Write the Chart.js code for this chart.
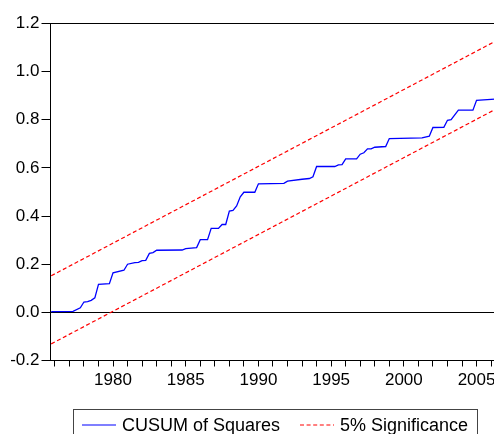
<!DOCTYPE html>
<html>
<head>
<meta charset="utf-8">
<script src="https://cdn.jsdelivr.net/npm/chart.js@4.4.1/dist/chart.umd.min.js"></script>
<style>
  html, body { margin: 0; padding: 0; background: #fff; overflow: hidden; }
  #wrap { position: relative; width: 494px; height: 434px; overflow: hidden; }
  #graf { position: absolute; left: 0; top: 0; }
  .legenda {
    position: absolute; left: 73px; top: 409px; width: 405px; height: 40px;
    border: 1px solid #444; box-sizing: border-box;
    font-family: "Liberation Sans", Arial, sans-serif; font-size: 18px; color: #000;
  }
  .item { position: absolute; top: 5px; white-space: nowrap; line-height: 20px; }
  .item svg { vertical-align: middle; margin-right: 6px; position: relative; top: -1px; }
</style>
</head>
<body>
<div id="wrap">
  <canvas id="graf" width="520" height="434"></canvas>
  <div class="legenda">
    <span class="item" style="left:8px"><svg width="34" height="4"><line x1="0" y1="2" x2="34" y2="2" stroke="#0000ff" stroke-width="1.2"/></svg>CUSUM of Squares</span>
    <span class="item" style="left:226px"><svg width="34" height="4"><line x1="0" y1="2" x2="34" y2="2" stroke="#ff0000" stroke-width="1.1" stroke-dasharray="4,2.6"/></svg>5% Significance</span>
  </div>
</div>
<script>
// CUSUM of squares (vertices of the quarterly path)
const anos = [1975.75, 1977.25, 1977.75, 1978.0, 1978.25, 1978.5, 1978.75, 1979.0, 1979.75, 1980.0,
  1980.75, 1981.0, 1981.5, 1981.75, 1982.0, 1982.25, 1982.5, 1982.75, 1983.0, 1984.75,
  1985.0, 1985.75, 1986.0, 1986.5, 1986.75, 1987.25, 1987.5, 1987.75, 1988.0, 1988.25,
  1988.5, 1988.75, 1989.0, 1989.75, 1990.0, 1991.75, 1992.0, 1993.0, 1993.5, 1993.75,
  1994.0, 1995.25, 1995.5, 1995.75, 1996.0, 1996.75, 1997.0, 1997.25, 1997.5, 1997.75,
  1998.0, 1998.75, 1999.0, 2001.25, 2001.75, 2002.0, 2002.75, 2003.0, 2003.25, 2003.75,
  2004.75, 2005.0, 2006.5];
const cusumSq = [0.003, 0.004, 0.019, 0.043, 0.045, 0.050, 0.060, 0.116, 0.119, 0.164,
  0.175, 0.200, 0.207, 0.208, 0.215, 0.216, 0.245, 0.248, 0.258, 0.259,
  0.265, 0.269, 0.302, 0.302, 0.349, 0.349, 0.365, 0.365, 0.421, 0.424,
  0.442, 0.480, 0.499, 0.499, 0.534, 0.536, 0.545, 0.553, 0.556, 0.563,
  0.606, 0.606, 0.613, 0.614, 0.638, 0.638, 0.657, 0.663, 0.679, 0.679,
  0.686, 0.689, 0.722, 0.725, 0.732, 0.768, 0.769, 0.798, 0.801, 0.840,
  0.840, 0.881, 0.887];

// 5% bands (straight lines, start and end)
const anosBanda = [1975.75, 2006.75];
const bandaSup = [0.152, 1.141];
const bandaInf = [-0.131, 0.858];

const yMin = -0.2, yMax = 1.2, yPasso = 0.2;
const xMin = 1975.7, xMax = 2006.75;

const pares = (xs, ys) => xs.map((x, i) => ({ x: x, y: ys[i] }));

const moldura = {
  id: 'moldura',
  afterDraw(chart) {
    const a = chart.chartArea;
    const c = chart.ctx;
    c.save();
    c.strokeStyle = '#000';
    c.lineWidth = 1;
    c.strokeRect(a.left, a.top, a.right - a.left, a.bottom - a.top);
    c.restore();
  }
};

const fonte = { family: '"Liberation Sans", Arial, sans-serif', size: 17 };

const ctx = document.getElementById('graf').getContext('2d');
const grafico = new Chart(ctx, {
  type: 'line',
  data: {
    datasets: [
      {
        label: 'CUSUM of Squares',
        data: pares(anos, cusumSq),
        borderColor: '#0000ff',
        borderWidth: 1.3,
        pointRadius: 0,
        tension: 0,
        fill: false
      },
      {
        label: '5% Significance',
        data: pares(anosBanda, bandaSup),
        borderColor: '#ff0000',
        borderWidth: 1.2,
        borderDash: [4, 2.6],
        pointRadius: 0,
        fill: false
      },
      {
        label: '5% Significance (lower)',
        data: pares(anosBanda, bandaInf),
        borderColor: '#ff0000',
        borderWidth: 1.2,
        borderDash: [4, 2.6],
        pointRadius: 0,
        fill: false
      }
    ]
  },
  options: {
    responsive: false,
    animation: false,
    layout: { padding: { left: 0.5, top: 23.5, right: 18, bottom: 0 } },
    plugins: { legend: { display: false }, tooltip: { enabled: false } },
    scales: {
      x: {
        type: 'linear',
        min: xMin,
        max: xMax,
        afterFit: (s) => { s.height = 73.5; },
        grid: { drawOnChartArea: false, drawTicks: true, tickLength: 6, color: '#000' },
        border: { display: true, color: '#000' },
        ticks: {
          stepSize: 1,
          includeBounds: false,
          autoSkip: false,
          maxRotation: 0,
          padding: 4,
          color: '#000',
          font: fonte,
          callback: (v) => (v % 5 === 0 ? String(v) : '')
        }
      },
      y: {
        min: yMin,
        max: yMax,
        afterFit: (s) => { s.width = 50; },
        grid: {
          drawOnChartArea: true,
          drawTicks: true,
          tickLength: 9,
          color: (c) => (c.tick && Math.abs(c.tick.value) < 1e-9 ? '#000' : 'rgba(0,0,0,0)'),
          tickColor: '#000'
        },
        border: { display: true, color: '#000' },
        ticks: {
          stepSize: yPasso,
          padding: 2,
          color: '#000',
          font: fonte,
          callback: (v) => (Math.abs(v) < 1e-9 ? 0 : v).toFixed(1)
        }
      }
    }
  },
  plugins: [moldura]
});
</script>
</body>
</html>
